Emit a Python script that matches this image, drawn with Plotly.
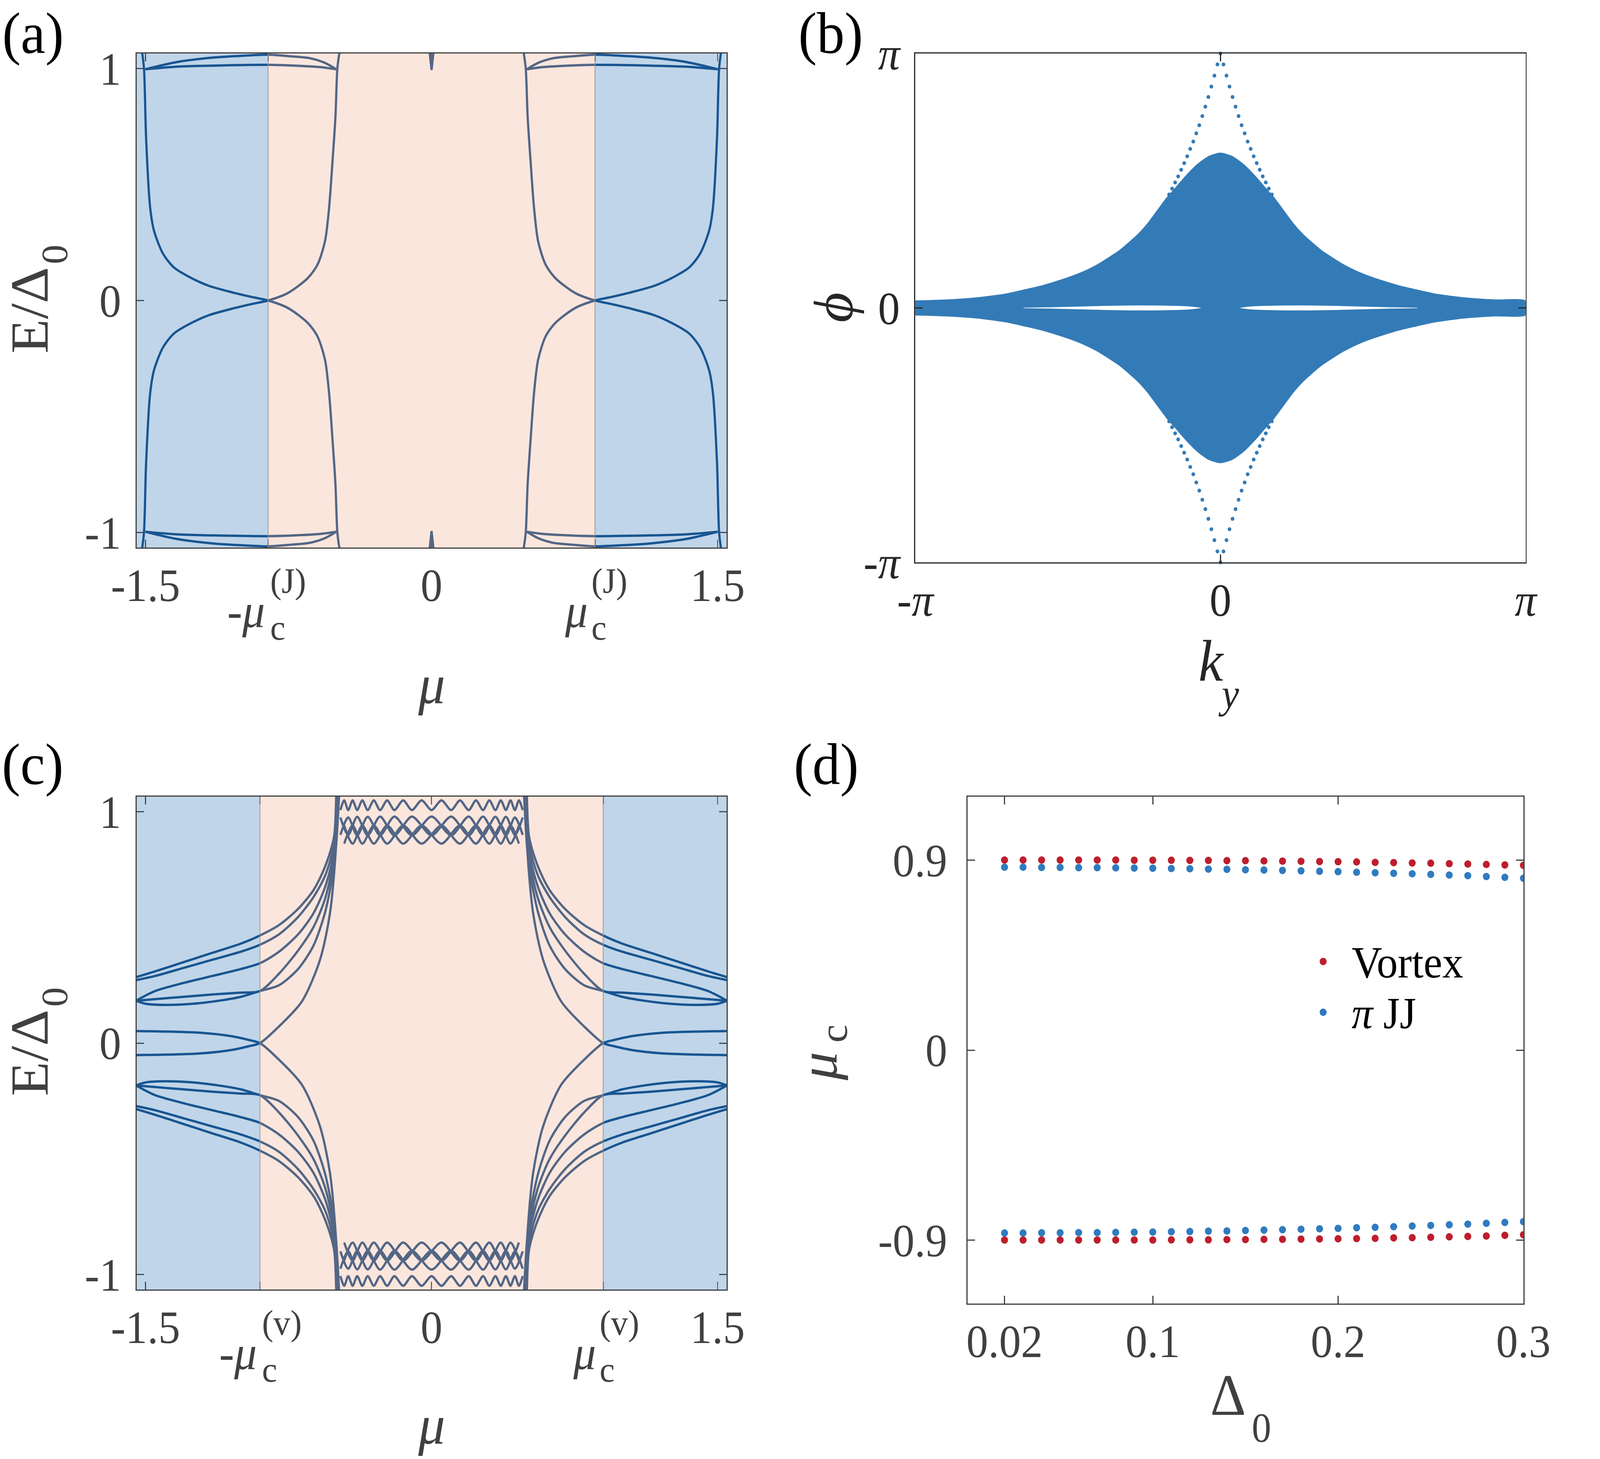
import numpy as np
import plotly.graph_objects as go

W, H = 4323, 3736
FONT = "Liberation Serif"
GRAY = "#404040"
DARK = "#262626"
LINE_C = "#0F4881"
PTS_B = "#337BB7"
RED = "#BE1E2D"
BLUE = "#2F7BBF"

# ---------------- panel (a) data (upper-left branch, mirrored) ----------------
MUC_J = 0.857
A_MU = [-1.518, -1.508, -1.497, -1.476, -1.456, -1.409, -1.352, -1.274, -1.170, -1.040,
        -0.936, -0.857, -0.754, -0.650, -0.598, -0.559, -0.538, -0.520, -0.504, -0.494, -0.483]
A_E = [1.070, 0.999, 0.700, 0.402, 0.302, 0.203, 0.143, 0.103, 0.064, 0.034,
       0.014, 0.000, -0.032, -0.096, -0.155, -0.255, -0.394, -0.593, -0.792, -1.000, -1.070]
LENS1_MU = [-1.501, -1.337, -1.138, -0.978, -0.859, -0.739, -0.640, -0.560, -0.500]
LENS1_E = [0.997, 1.028, 1.048, 1.056, 1.060, 1.053, 1.045, 1.025, 0.997]
LENS2_MU = [-1.501, -1.337, -1.138, -0.859, -0.699, -0.580, -0.500]
LENS2_E = [0.997, 1.008, 1.013, 1.016, 1.012, 1.006, 0.997]
SPIKE_MU = [-0.010, 0.000, 0.010]
SPIKE_E = [1.070, 0.994, 1.070]

# ---------------- panel (c) data (upper-left quadrant, mirrored) ----------------
MUC_V = 0.900
U1_MU = [-1.55, -1.45, -1.30, -1.15, -1.00, -0.90, -0.80, -0.70, -0.62, -0.57, -0.53, -0.51, -0.50]
U1_E = [0.285, 0.310, 0.350, 0.390, 0.430, 0.465, 0.510, 0.580, 0.660, 0.740, 0.830, 0.900, 1.070]
U2_MU = [-1.55, -1.45, -1.30, -1.15, -1.00, -0.90, -0.80, -0.70, -0.62, -0.56, -0.525, -0.505, -0.495]
U2_E = [0.272, 0.290, 0.325, 0.360, 0.395, 0.425, 0.470, 0.545, 0.630, 0.720, 0.810, 0.900, 1.070]
U3_MU = [-1.55, -1.45, -1.30, -1.15, -1.00, -0.90, -0.80, -0.70, -0.62, -0.56, -0.52, -0.50, -0.49]
U3_E = [0.183, 0.225, 0.260, 0.290, 0.320, 0.345, 0.395, 0.470, 0.560, 0.670, 0.790, 0.900, 1.070]
U4_MU = [-1.55, -1.45, -1.30, -1.15, -1.00, -0.90, -0.80, -0.70, -0.62, -0.56, -0.52, -0.50, -0.487]
U4_E = [0.183, 0.190, 0.200, 0.210, 0.218, 0.225, 0.300, 0.400, 0.500, 0.620, 0.760, 0.880, 1.070]
U5_MU = [-1.55, -1.50, -1.40, -1.25, -1.10, -1.00, -0.90, -0.80, -0.70, -0.62, -0.56, -0.52, -0.50, -0.485]
U5_E = [0.183, 0.170, 0.165, 0.170, 0.185, 0.200, 0.225, 0.250, 0.320, 0.420, 0.560, 0.720, 0.860, 1.070]
U6_MU = [-1.55, -1.40, -1.20, -1.05, -0.96, -0.90, -0.81, -0.68, -0.585, -0.533, -0.50, -0.49]
U6_E = [0.052, 0.050, 0.044, 0.030, 0.014, 0.000, -0.064, -0.180, -0.360, -0.560, -0.860, -1.070]
BAND_X = [-0.478, -0.437, -0.390, -0.335, -0.270, -0.195, -0.103, 0.000,
          0.103, 0.195, 0.270, 0.335, 0.390, 0.437, 0.478]
BAND_P = [0.900, 0.975, 0.898, 0.978, 0.898, 0.979, 0.898, 0.979,
          0.898, 0.979, 0.898, 0.978, 0.898, 0.975, 0.900]
BAND_Q = [0.975, 0.900, 0.978, 0.898, 0.979, 0.898, 0.979, 0.898,
          0.979, 0.898, 0.979, 0.898, 0.978, 0.900, 0.975]
BAND_M = [-0.458, -0.414, -0.363, -0.303, -0.233, -0.149, -0.052,
          0.052, 0.149, 0.233, 0.303, 0.363, 0.414, 0.458]
BAND_R = [0.940, 0.862, 0.940, 0.862, 0.940, 0.862, 0.940,
          0.862, 0.940, 0.862, 0.940, 0.862, 0.940, 0.862]
BAND_S = [0.862, 0.940, 0.862, 0.940, 0.862, 0.940, 0.862,
          0.940, 0.862, 0.940, 0.862, 0.940, 0.862, 0.940]
ZIG_X = [-0.478, -0.458, -0.437, -0.414, -0.390, -0.363, -0.335, -0.303, -0.270, -0.233,
         -0.195, -0.149, -0.103, -0.052, 0.000, 0.052, 0.103, 0.149, 0.195, 0.233,
         0.270, 0.303, 0.335, 0.363, 0.390, 0.414, 0.437, 0.458, 0.478]
ZIG_E = [1.007, 1.049, 1.007, 1.049, 1.007, 1.049, 1.007, 1.049, 1.007, 1.049,
         1.007, 1.049, 1.007, 1.049, 1.007, 1.049, 1.007, 1.049, 1.007, 1.049,
         1.007, 1.049, 1.007, 1.049, 1.007, 1.049, 1.007, 1.049, 1.007]

# ---------------- panel (b) data (in units of pi) ----------------
ENV_KY = [-1.000, -0.900, -0.800, -0.745, -0.700, -0.640, -0.580, -0.500, -0.450, -0.400,
          -0.360, -0.330, -0.300, -0.267, -0.236, -0.205, -0.174, -0.143, -0.112, -0.075,
          -0.038, 0.000]
ENV_PHI = [0.024, 0.028, 0.036, 0.044, 0.052, 0.068, 0.085, 0.115, 0.138, 0.168,
           0.198, 0.222, 0.252, 0.288, 0.330, 0.380, 0.430, 0.472, 0.515, 0.560,
           0.592, 0.605]
GAP_KY = [-0.645, -0.550, -0.450, -0.350, -0.260, -0.170, -0.100, -0.065]
GAP_HALF = [0.000, 0.002, 0.005, 0.008, 0.009, 0.008, 0.005, 0.000]
DIA_KY = [0.0000, 0.0099, 0.0198, 0.0297, 0.0396, 0.0495, 0.0594, 0.0693, 0.0792,
          0.0891, 0.0990, 0.1089, 0.1188, 0.1287, 0.1386, 0.1485, 0.1584, 0.1683]
DIA_PHI = [1.000, 0.957, 0.913, 0.870, 0.829, 0.791, 0.754, 0.718, 0.686,
           0.654, 0.625, 0.596, 0.569, 0.543, 0.517, 0.493, 0.469, 0.446]

# ---------------- panel (d) data ----------------
DELTA0 = [0.02, 0.03, 0.04, 0.05, 0.06, 0.07, 0.08, 0.09, 0.10, 0.11, 0.12, 0.13, 0.14, 0.15,
          0.16, 0.17, 0.18, 0.19, 0.20, 0.21, 0.22, 0.23, 0.24, 0.25, 0.26, 0.27, 0.28, 0.29, 0.30]
VORTEX_UP = [0.900, 0.900, 0.900, 0.900, 0.900, 0.900, 0.900, 0.899, 0.899, 0.899, 0.898, 0.898,
             0.897, 0.897, 0.896, 0.895, 0.894, 0.893, 0.892, 0.891, 0.889, 0.888, 0.886, 0.885,
             0.883, 0.881, 0.879, 0.877, 0.875]
PIJJ_UP = [0.866, 0.866, 0.865, 0.865, 0.864, 0.864, 0.863, 0.862, 0.861, 0.860, 0.859, 0.857,
           0.856, 0.854, 0.853, 0.851, 0.849, 0.847, 0.845, 0.842, 0.840, 0.837, 0.835, 0.832,
           0.829, 0.826, 0.822, 0.818, 0.814]
VORTEX_DN = [-0.899, -0.899, -0.899, -0.899, -0.899, -0.899, -0.899, -0.899, -0.899, -0.898,
             -0.898, -0.898, -0.897, -0.897, -0.896, -0.896, -0.895, -0.894, -0.893, -0.892,
             -0.891, -0.889, -0.888, -0.886, -0.884, -0.882, -0.880, -0.877, -0.874]
PIJJ_DN = [-0.866, -0.866, -0.865, -0.865, -0.864, -0.864, -0.863, -0.862, -0.861, -0.860,
           -0.859, -0.857, -0.856, -0.854, -0.852, -0.850, -0.848, -0.846, -0.844, -0.841,
           -0.839, -0.836, -0.833, -0.830, -0.827, -0.824, -0.820, -0.816, -0.812]
LEGEND_LABELS = ["Vortex", "<i>π</i> JJ"]

# ---------------- layout geometry (pixels) ----------------
DOM = {
    "a": dict(x=(369, 1963), y=(137, 1402)),
    "b": dict(x=(2473, 4122), y=(137, 1440)),
    "c": dict(x=(369, 1963), y=(2040, 3302)),
    "d": dict(x=(2614, 4116), y=(2040, 3338)),
}
XR_AC = [-1.547, 1.547]
YR_AC = [-1.065, 1.065]


def xdom(k):
    x0, x1 = DOM[k]["x"]
    return [x0 / W, x1 / W]


def ydom(k):
    y0, y1 = DOM[k]["y"]
    return [1 - y1 / H, 1 - y0 / H]


def px(xp):
    return xp / W


def py(yp):
    return 1 - yp / H


fig = go.Figure()


def add_line(x, y, xa, ya, color=LINE_C, width=6, shape="spline"):
    fig.add_trace(go.Scatter(x=x, y=y, mode="lines", xaxis=xa, yaxis=ya, showlegend=False,
                             hoverinfo="skip",
                             line=dict(color=color, width=width, shape=shape, smoothing=0.8)))


def add_mirrored(mu, e, xa, ya, shape="spline"):
    mu = np.asarray(mu)
    e = np.asarray(e)
    for sx in (1, -1):
        for sy in (1, -1):
            add_line(sx * mu, sy * e, xa, ya, shape=shape)


# panel (a)
for mu, e in [(A_MU, A_E), (LENS1_MU, LENS1_E), (LENS2_MU, LENS2_E)]:
    add_mirrored(mu, e, "x", "y")
for sy in (1, -1):
    add_line(SPIKE_MU, sy * np.asarray(SPIKE_E), "x", "y", shape="linear")

# panel (c)
for mu, e in [(U1_MU, U1_E), (U2_MU, U2_E), (U3_MU, U3_E), (U4_MU, U4_E),
              (U5_MU, U5_E), (U6_MU, U6_E)]:
    add_mirrored(mu, e, "x3", "y3")
for sy in (1, -1):
    add_line(BAND_X, sy * np.asarray(BAND_P), "x3", "y3")
    add_line(BAND_X, sy * np.asarray(BAND_Q), "x3", "y3")
    add_line(BAND_M, sy * np.asarray(BAND_R), "x3", "y3")
    add_line(BAND_M, sy * np.asarray(BAND_S), "x3", "y3")
    add_line(ZIG_X, sy * np.asarray(ZIG_E), "x3", "y3")

# panel (b)
ky = np.asarray(ENV_KY)
ph = np.asarray(ENV_PHI)
up_x = np.concatenate([ky, -ky[::-1][1:]])
up_y = np.concatenate([ph, ph[::-1][1:]])
poly_x = np.concatenate([up_x, up_x[::-1]]) * np.pi
poly_y = np.concatenate([up_y, -up_y[::-1]]) * np.pi
fig.add_trace(go.Scatter(x=poly_x, y=poly_y, mode="lines", fill="toself", fillcolor=PTS_B,
                         line=dict(color=PTS_B, width=7, shape="spline", smoothing=0.6),
                         xaxis="x2", yaxis="y2", showlegend=False, hoverinfo="skip"))
gk = np.asarray(GAP_KY)
gh = np.asarray(GAP_HALF)
for sx in (1, -1):
    gx = np.concatenate([gk, gk[::-1]]) * sx * np.pi
    gy = np.concatenate([gh, -gh[::-1]]) * np.pi
    fig.add_trace(go.Scatter(x=gx, y=gy, mode="lines", fill="toself", fillcolor="white",
                             line=dict(color="white", width=1, shape="spline"),
                             xaxis="x2", yaxis="y2", showlegend=False, hoverinfo="skip"))
dk = np.asarray(DIA_KY)
dp = np.asarray(DIA_PHI)
dx = np.concatenate([dk, -dk[1:], dk, -dk[1:]]) * np.pi
dy = np.concatenate([dp, dp[1:], -dp, -dp[1:]]) * np.pi
fig.add_trace(go.Scatter(x=dx, y=dy, mode="markers", marker=dict(color=PTS_B, size=10),
                         xaxis="x2", yaxis="y2", showlegend=False, hoverinfo="skip",
                         cliponaxis=False))

# panel (d)
for ys, col, lab in [(VORTEX_UP, RED, LEGEND_LABELS[0]), (PIJJ_UP, BLUE, LEGEND_LABELS[1]),
                     (VORTEX_DN, RED, LEGEND_LABELS[0]), (PIJJ_DN, BLUE, LEGEND_LABELS[1])]:
    fig.add_trace(go.Scatter(x=DELTA0, y=ys, mode="markers", name=lab,
                             marker=dict(color=col, size=19), xaxis="x4", yaxis="y4",
                             showlegend=False))


def axis(color, **kw):
    d = dict(showline=True, linecolor=color, linewidth=3, mirror="ticks", ticks="inside",
             ticklen=20, tickwidth=3, tickcolor=color, showgrid=False, zeroline=False,
             tickfont=dict(family=FONT, size=118, color=color), tickmode="array",
             automargin=False)
    d.update(kw)
    return d


XSO = -8
layout = dict(
    width=W, height=H, margin=dict(l=0, r=0, t=0, b=0, autoexpand=False),
    paper_bgcolor="white", plot_bgcolor="white", showlegend=False,
    font=dict(family=FONT, color=GRAY),
    xaxis=axis(GRAY, domain=xdom("a"), anchor="y", range=XR_AC,
               tickvals=[-1.5, -MUC_J, 0, MUC_J, 1.5], ticktext=["-1.5", "", "0", "", "1.5"],
               ticklabelstandoff=XSO),
    yaxis=axis(GRAY, domain=ydom("a"), anchor="x", range=YR_AC,
               tickvals=[-1, 0, 1], ticktext=["-1", "0", "1"], ticklabelstandoff=15),
    xaxis2=axis(DARK, domain=xdom("b"), anchor="y2", range=[-np.pi, np.pi],
                tickvals=[-np.pi, 0, np.pi], ticktext=["-<i>π</i>", "0", "<i>π</i>"],
                ticklabelstandoff=XSO),
    yaxis2=axis(DARK, domain=ydom("b"), anchor="x2", range=[-np.pi, np.pi],
                tickvals=[-np.pi, 0, np.pi], ticktext=["-<i>π</i>", "0", "<i>π</i>"],
                ticklabelstandoff=15),
    xaxis3=axis(GRAY, domain=xdom("c"), anchor="y3", range=XR_AC,
                tickvals=[-1.5, -MUC_V, 0, MUC_V, 1.5], ticktext=["-1.5", "", "0", "", "1.5"],
                ticklabelstandoff=XSO),
    yaxis3=axis(GRAY, domain=ydom("c"), anchor="x3", range=YR_AC,
                tickvals=[-1, 0, 1], ticktext=["-1", "0", "1"], ticklabelstandoff=15),
    xaxis4=axis(GRAY, domain=xdom("d"), anchor="y4", range=[0, 0.3],
                tickvals=[0.02, 0.1, 0.2, 0.3], ticktext=["0.02", "0.1", "0.2", "0.3"],
                ticklabelstandoff=XSO),
    yaxis4=axis(GRAY, domain=ydom("d"), anchor="x4", range=[-1.2, 1.2],
                tickvals=[-0.9, 0, 0.9], ticktext=["-0.9", "0", "0.9"], ticklabelstandoff=28),
)
fig.update_layout(**layout)

# shaded regions (semi-transparent overlays above the curves)
shapes = []
for xa, ya, muc in [("x", "y", MUC_J), ("x3", "y3", MUC_V)]:
    for x0, x1, col in [(XR_AC[0], -muc, "rgba(45,115,182,0.30)"),
                        (-muc, muc, "rgba(242,172,142,0.30)"),
                        (muc, XR_AC[1], "rgba(45,115,182,0.30)")]:
        shapes.append(dict(type="rect", xref=xa, yref=ya, x0=x0, x1=x1, y0=YR_AC[0], y1=YR_AC[1],
                           fillcolor=col, line=dict(width=0), layer="above"))
    for xv in (-muc, muc):
        shapes.append(dict(type="line", xref=xa, yref=ya, x0=xv, x1=xv, y0=YR_AC[0], y1=YR_AC[1],
                           line=dict(color="rgba(150,150,150,0.8)", width=2.5), layer="above"))
# legend symbols for panel (d)
for (cx, cy), col in [((3575, 2462), RED), ((3575, 2592), BLUE)]:
    r = 9.5
    shapes.append(dict(type="circle", xref="paper", yref="paper",
                       x0=px(cx - r), x1=px(cx + r), y0=py(cy + r), y1=py(cy - r),
                       fillcolor=col, line=dict(width=0)))
fig.update_layout(shapes=shapes)

ann = []


def text(t, xp, yp, size, color=GRAY, angle=0, xanchor="center", yanchor="middle"):
    ann.append(dict(text=t, x=px(xp), y=py(yp), xref="paper", yref="paper", showarrow=False,
                    textangle=angle, xanchor=xanchor, yanchor=yanchor,
                    font=dict(family=FONT, size=size, color=color)))


def tick_px(k, val, rng):
    x0, x1 = DOM[k]["x"]
    return x0 + (val - rng[0]) / (rng[1] - rng[0]) * (x1 - x0)


# panel labels (top row anchored at the top edge so that they stay fully visible)
text("(a)", 4, 0, 150, color="black", xanchor="left", yanchor="top")
text("(b)", 2155, 0, 150, color="black", xanchor="left", yanchor="top")
text("(c)", 88, 1958, 150, color="black")
text("(d)", 2232, 1958, 150, color="black")

# special mu_c tick labels
for k, muc, sup, base in [("a", MUC_J, "(J)", 1402), ("c", MUC_V, "(v)", 3302)]:
    tl = tick_px(k, -muc, XR_AC)
    tr = tick_px(k, muc, XR_AC)
    yb = base
    text("-<i>μ</i>", tl - 6, yb + 162, 122, xanchor="right")
    text(sup, tl + 4, yb + 85, 92, xanchor="left")
    text("c", tl + 4, yb + 205, 92, xanchor="left")
    text("<i>μ</i>", tr - 18, yb + 162, 122, xanchor="right")
    text(sup, tr - 12, yb + 85, 92, xanchor="left")
    text("c", tr - 12, yb + 205, 92, xanchor="left")

# axis titles
text("<i>μ</i>", 1166, 1752, 145)
text("<i>μ</i>", 1166, 3648, 145)
for cy in (769.5, 2671):
    text("E/Δ", 80, cy + 25, 145, angle=-90)
    text("0", 148, cy - 118, 100, angle=-90)
text("<i>ϕ</i>", 2252, 787, 150, color=DARK, angle=-90)
text("<i>k</i>", 3272, 1692, 150, color=DARK)
text("<i>y</i>", 3320, 1776, 105, color=DARK)
text("<i>μ</i>", 2212, 2730, 145, angle=-90)
text("c", 2252, 2647, 105, angle=-90)
text("Δ", 3318, 3572, 150)
text("0", 3408, 3656, 105)
# legend texts
for lab, cy in zip(LEGEND_LABELS, (2464, 2594)):
    text(lab, 3650, cy, 114, color="black", xanchor="left")

fig.update_layout(annotations=ann)

# make the fixed-size figure exactly fill the browser viewport
FIT_JS = """
(function () {
  var html = document.documentElement, body = document.body;
  html.style.overflow = 'hidden';
  body.style.overflow = 'hidden';
  body.style.margin = '0';
  body.style.padding = '0';
  var gd = document.querySelector('.plotly-graph-div');
  var sx = window.innerWidth / %d, sy = window.innerHeight / %d;
  if (gd && (Math.abs(sx - 1) > 0.001 || Math.abs(sy - 1) > 0.001)) {
    gd.style.transformOrigin = '0 0';
    gd.style.transform = 'scale(' + sx + ',' + sy + ')';
  }
})();
""" % (W, H)
fig.write_html("out.html", post_script=FIT_JS,
               config={"displayModeBar": False, "staticPlot": True})
